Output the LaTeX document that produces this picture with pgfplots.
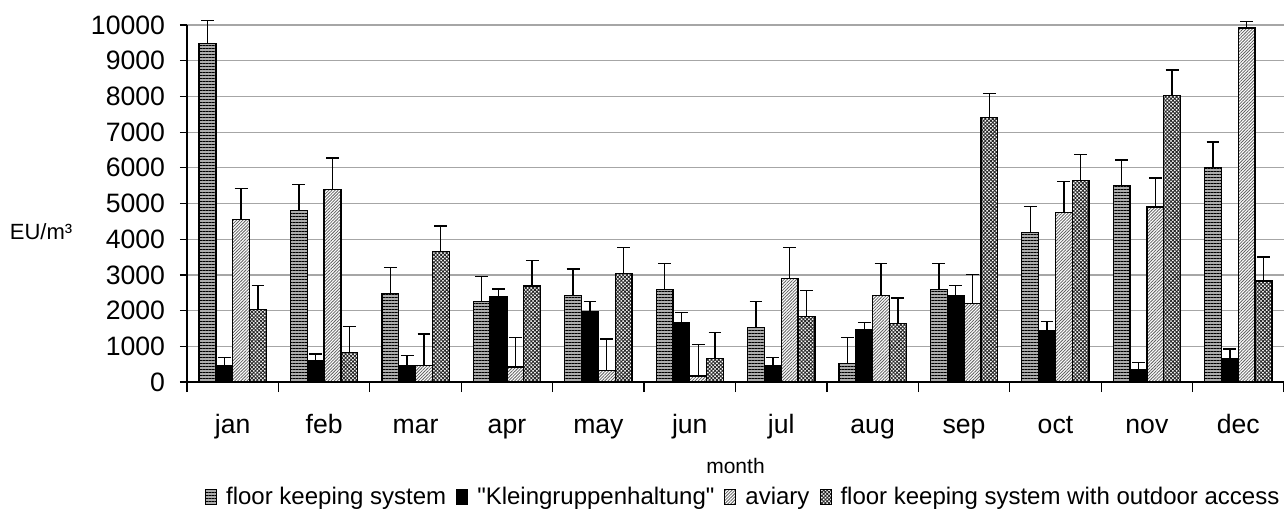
\documentclass[border=0pt]{standalone}
\usepackage{fontspec}
\setmainfont{Liberation Sans}[Ligatures=TeXOff]
\usepackage{pgfplots}
\usepackage{pgfplotstable}
\pgfplotsset{compat=1.18}
\usetikzlibrary{patterns,patterns.meta}

\pgfplotstableread{
m floor ferr klein kerr avi aerr out oerr
0 9490 640 450 230 4550 870 2030 670
1 4800 730 590 200 5400 880 830 720
2 2470 730 470 270 460 890 3650 720
3 2250 710 2380 230 420 820 2690 720
4 2430 730 1980 270 330 870 3030 730
5 2590 730 1670 280 170 880 660 730
6 1520 730 450 240 2900 860 1830 730
7 520 720 1460 200 2430 890 1640 710
8 2590 730 2430 270 2190 820 7400 680
9 4180 730 1450 240 4740 880 5650 720
10 5500 720 340 205 4900 820 8020 720
11 6000 720 660 270 9920 180 2830 670
}\datatable

\tikzset{
  floorst/.style={fill=gray!65, postaction={pattern={Lines[angle=0,distance=1.5pt,line width=0.5pt]}, pattern color=black}},
  kleinst/.style={fill=black},
  avist/.style={fill=white, postaction={pattern={Lines[angle=45,distance=1.1pt,line width=0.4pt]}, pattern color=gray!75!black}},
  outst/.style={fill=white, postaction={pattern={Hatch[angle=45,distance=1.3pt,line width=0.45pt]}, pattern color=gray!30!black}},
}

\begin{document}
\begin{tikzpicture}
\begin{axis}[
  at={(0,0)}, anchor=south west,
  scale only axis, width=548.5pt, height=178.5pt,
  ybar=0pt, bar width=0.184,
  xmin=-0.5, xmax=11.5, ymin=0, ymax=10000,
  clip=false,
  axis lines*=left,
  axis line style={black, line width=0.6pt},
  xtick={0,...,11},
  xticklabels={jan,feb,mar,apr,may,jun,jul,aug,sep,oct,nov,dec},
  minor xtick={-0.5,0.5,...,11.5},
  major x tick style={draw=none},
  minor x tick style={black, line width=0.6pt},
  minor tick length=5pt,
  scaled y ticks=false,
  ytick={0,1000,...,10000},
  yticklabels={0,1000,2000,3000,4000,5000,6000,7000,8000,9000,10000},
  y tick style={black, line width=0.6pt},
  major tick length=3.5pt,
  tick align=outside,
  ymajorgrids,
  major y grid style={gray!70, line width=0.6pt},
  tick label style={font=\fontsize{13.3}{15}\selectfont},
  xticklabel style={anchor=base, yshift=-22pt},
  yticklabel style={anchor=east, xshift=-4pt},
  xlabel={month},
  xlabel style={font=\fontsize{10.5}{12}\selectfont, at={(axis description cs:0.5,-0.235)}, anchor=center},
  ylabel={EU/m³},
  ylabel style={font=\fontsize{11}{13}\selectfont, rotate=-90, at={(axis description cs:-0.133,0.42)}, anchor=center},
  legend style={at={(axis description cs:0.508,-0.322)}, anchor=center, draw=none, fill=none,
    font=\fontsize{12}{14}\selectfont, legend columns=-1,
    /tikz/every odd column/.append style={column sep=2.5pt},
    /tikz/every even column/.append style={column sep=3pt}},
  legend image code/.code={\draw[#1, draw=black, line width=0.5pt] (0pt,-3.7pt) rectangle (5.5pt,3.7pt);},
  error bars/y dir=plus, error bars/y explicit,
  error bars/error bar style={black, line width=0.7pt},
  error bars/error mark options={rotate=90, mark size=3.2pt, black, line width=0.7pt},
]
\addplot[floorst, draw=black, line width=0.65pt] table[x=m, y=floor, y error=ferr] {\datatable};
\addplot[kleinst, draw=black, line width=0.65pt] table[x=m, y=klein, y error=kerr] {\datatable};
\addplot[avist, draw=black, line width=0.65pt] table[x=m, y=avi, y error=aerr] {\datatable};
\addplot[outst, draw=black, line width=0.65pt] table[x=m, y=out, y error=oerr] {\datatable};
\legend{floor keeping system, "Kleingruppenhaltung", aviary, floor keeping system with outdoor access}
\end{axis}
\pgfresetboundingbox
\path[use as bounding box] (-93.5pt,-67pt) rectangle (548.5pt,191pt);
\end{tikzpicture}
\end{document}
